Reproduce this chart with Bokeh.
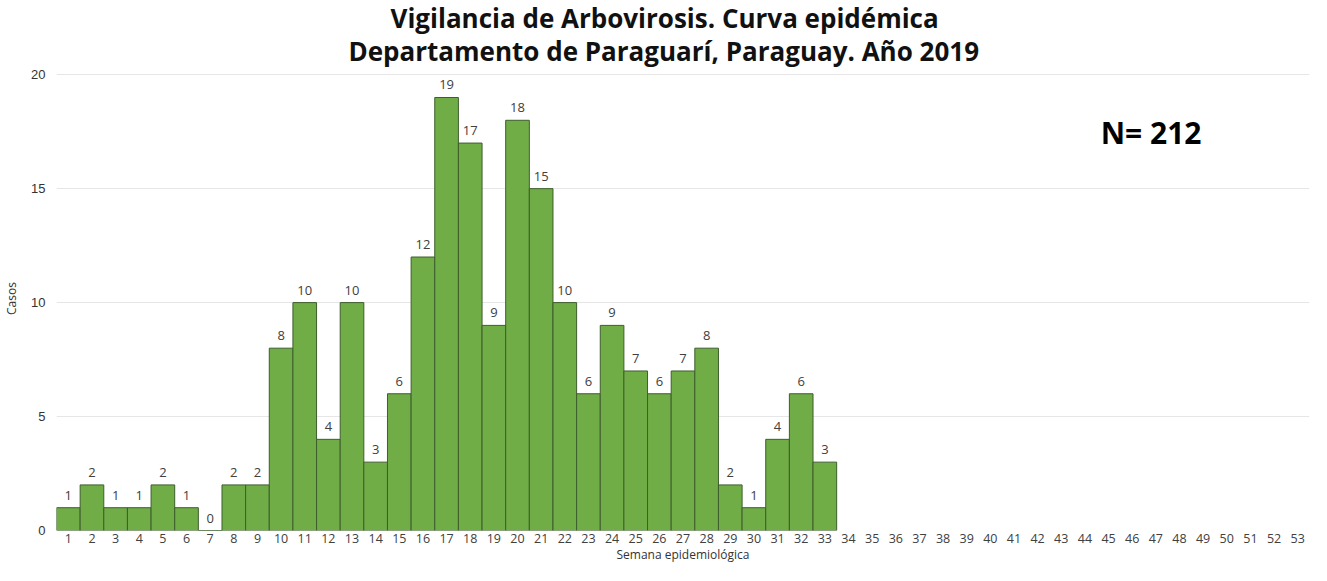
from bokeh.plotting import figure
from bokeh.models import ColumnDataSource, FixedTicker, Range1d, Label, Title
from bokeh.core.properties import value
from bokeh.embed import file_html
from bokeh.resources import INLINE

weeks = list(range(1, 34))
cases = [1, 2, 1, 1, 2, 1, 0, 2, 2, 8, 10, 4, 10, 3, 6, 12, 19, 17, 9, 18, 15,
         10, 6, 9, 7, 6, 7, 8, 2, 1, 4, 6, 3]
all_weeks = list(range(1, 54))
y_ticks = [0, 5, 10, 15, 20]
title_line1 = "Vigilancia de Arbovirosis. Curva epidémica"
title_line2 = "Departamento de Paraguarí, Paraguay. Año 2019"
n_text = "N= 212"
x_label = "Semana epidemiológica"

src = ColumnDataSource(dict(x=weeks, y=cases, lbl=[str(c) for c in cases]))

p = figure(width=1311, height=565, output_backend="svg", toolbar_location=None,
           x_range=Range1d(0.5, 53.5), y_range=Range1d(0, 20.36),
           min_border_left=47, min_border_right=2, min_border_bottom=0, min_border_top=0)

for t, off in ((title_line2, 292), (title_line1, 334)):
    p.add_layout(Title(text=t, align="left", text_font="Open Sans", text_font_style="bold",
                       text_font_size="26px", text_color="#111111", offset=off, standoff=-5,
                       text_line_height=1.0), "above")

p.vbar(x="x", top="y", width=1.0, bottom=0, source=src,
       fill_color="#70AD47", line_color="#3d5e2c", line_width=1)

p.text(x="x", y="y", text="lbl", source=src, text_align="center", text_baseline="bottom",
       y_offset=-8, text_font=value("Open Sans"), text_font_size="13px", text_color="#404040")

p.add_layout(Label(x=46.8, y=17.45, text=n_text, text_align="center", text_baseline="middle",
                   text_font="Open Sans", text_font_style="bold", text_font_size="30px",
                   text_color="#000000"))

p.xaxis.ticker = FixedTicker(ticks=all_weeks)
p.yaxis.ticker = FixedTicker(ticks=y_ticks)
for ax in (p.xaxis[0], p.yaxis[0]):
    ax.axis_line_color = None
    ax.major_tick_line_color = None
    ax.minor_tick_line_color = None
    ax.major_tick_out = 0
    ax.major_tick_in = 0
    ax.minor_tick_out = 0
    ax.minor_tick_in = 0
    ax.axis_label_text_font_style = "normal"
    ax.axis_label_text_color = "#333333"
    ax.axis_label_text_font_size = "12px"
    ax.axis_label_text_font = "Open Sans"
p.xaxis.axis_label = x_label
p.yaxis.axis_label = "Casos"
p.xaxis.major_label_text_font = "Open Sans"
p.xaxis.major_label_text_font_size = "12.5px"
p.xaxis.major_label_text_color = "#404040"
p.xaxis.major_label_standoff = 3
p.xaxis.axis_label_standoff = 0
p.yaxis.major_label_text_font = "Liberation Sans"
p.yaxis.major_label_text_font_size = "13px"
p.yaxis.major_label_text_color = "#333333"
p.yaxis.major_label_standoff = 11
p.yaxis.axis_label_standoff = 8

p.xgrid.grid_line_color = None
p.ygrid.grid_line_color = "#e6e6e6"
p.ygrid.grid_line_width = 1
p.outline_line_color = None

open("out.html", "w").write(file_html(p, INLINE))
